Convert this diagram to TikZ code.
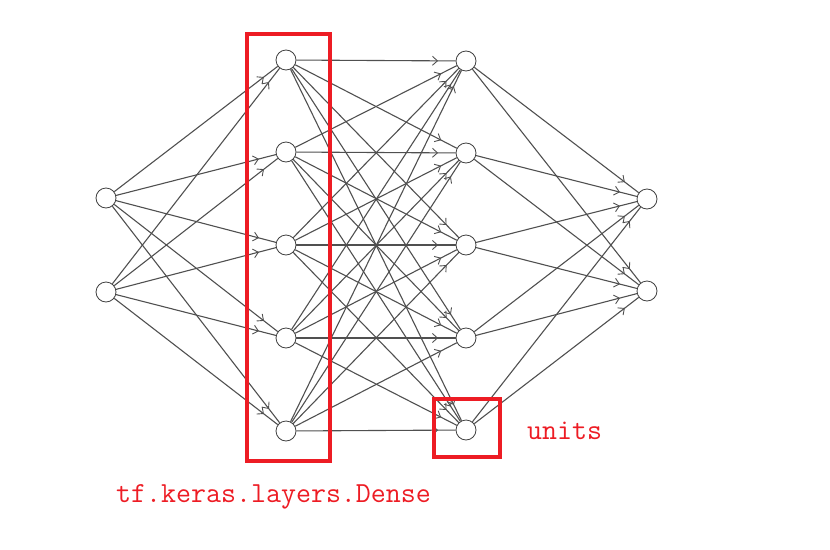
\documentclass[tikz,border=0pt]{standalone}
\usepackage{fontspec}
\usetikzlibrary{arrows.meta,decorations.markings}
\definecolor{redbox}{HTML}{ED1C24}
\definecolor{edgegray}{HTML}{505050}
\tikzset{
  neuron/.style={circle,draw=black!75,fill=white,line width=0.8pt,minimum size=20pt,inner sep=0pt},
  conn/.style={draw=edgegray,line width=1.1pt,
    postaction={decorate},
    decoration={markings,mark=at position -17.5pt with {\arrow[edgegray,line width=0.9pt]{Straight Barb[length=5pt,width=9pt]}}}},
  redframe/.style={draw=redbox,line width=4pt},
  redlabel/.style={text=redbox,font=\ttfamily\fontsize{29.1}{29.1}\selectfont,inner sep=0pt,anchor=base west}
}
\begin{document}
\begin{tikzpicture}[x=1pt,y=-1pt]
\useasboundingbox (0,0) rectangle (830,549);
% nodes
\node[neuron] (i1) at (106,198) {};
\node[neuron] (i2) at (106,292) {};
\foreach \k/\y in {1/60,2/152,3/245,4/338,5/431} \node[neuron] (a\k) at (286,\y) {};
\foreach \k/\y in {1/61,2/153,3/245,4/338,5/430} \node[neuron] (b\k) at (466,\y) {};
\node[neuron] (o1) at (647,199) {};
\node[neuron] (o2) at (647,291) {};
% connections
\foreach \i in {1,2} \foreach \k in {1,...,5} \draw[conn] (i\i) -- (a\k);
\foreach \k in {1,...,5} \foreach \m in {1,...,5} \draw[conn] (a\k) -- (b\m);
\foreach \m in {1,...,5} \foreach \o in {1,2} \draw[conn] (b\m) -- (o\o);
% red frames
\draw[redframe] (247,34) rectangle (330,461);
\draw[redframe] (434,399) rectangle (500,457);
% labels
\node[redlabel] (units) at (527,439) {units};
\node[redlabel] (dense) at (116,502) {tf.keras.layers.Dense};
\end{tikzpicture}
\end{document}
